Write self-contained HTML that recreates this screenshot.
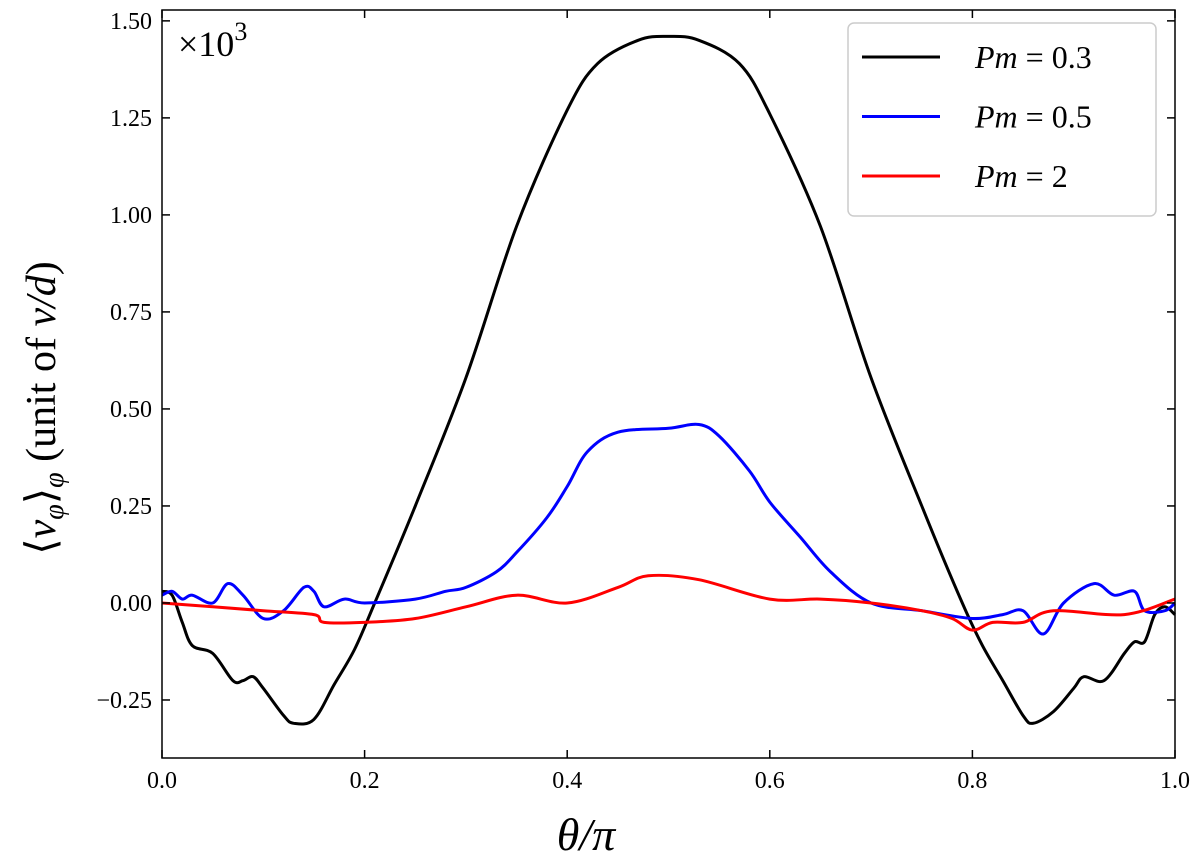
<!DOCTYPE html>
<html><head><meta charset="utf-8"><style>
body{margin:0;background:#fff;}
svg{display:block;font-family:"Liberation Serif",serif;}
</style></head><body>
<svg id="chart" width="1200" height="867"></svg>
<script>
const xTicks=[0,0.2,0.4,0.6,0.8,1.0];
const xTickLabels=["0.0","0.2","0.4","0.6","0.8","1.0"];
const yTicks=[-0.25,0,0.25,0.5,0.75,1.0,1.25,1.5];
const yTickLabels=["\u22120.25","0.00","0.25","0.50","0.75","1.00","1.25","1.50"];
const seriesNames=["Pm = 0.3","Pm = 0.5","Pm = 2"];
const seriesColors=["#000","#00f","#f00"];
const blackT=[0,0.01,0.02,0.03,0.05,0.07,0.08,0.09,0.1,0.12,0.13,0.15,0.17,0.19,0.21,0.25,0.3,0.35,0.4,0.43,0.47,0.5,0.53,0.57,0.6,0.65,0.7,0.75,0.79,0.81,0.83,0.85,0.86,0.88,0.9,0.91,0.93,0.95,0.96,0.97,0.98,0.99,1.0];
const blackV=[0.03,0.02,-0.05,-0.11,-0.13,-0.2,-0.2,-0.19,-0.22,-0.29,-0.31,-0.3,-0.21,-0.12,0.0,0.25,0.58,0.97,1.27,1.39,1.45,1.46,1.45,1.39,1.26,0.97,0.58,0.25,0.0,-0.11,-0.2,-0.29,-0.31,-0.28,-0.22,-0.19,-0.2,-0.13,-0.1,-0.1,-0.03,-0.01,-0.03];
const blueT=[0,0.01,0.02,0.03,0.05,0.065,0.08,0.1,0.12,0.14,0.15,0.16,0.18,0.2,0.25,0.28,0.3,0.33,0.35,0.38,0.4,0.42,0.45,0.5,0.53,0.55,0.58,0.6,0.63,0.66,0.7,0.75,0.8,0.83,0.85,0.87,0.89,0.92,0.94,0.96,0.97,0.99,1.0];
const blueV=[0.02,0.03,0.01,0.02,0.0,0.05,0.02,-0.04,-0.02,0.04,0.03,-0.01,0.01,0.0,0.01,0.03,0.04,0.08,0.13,0.22,0.30,0.39,0.44,0.45,0.46,0.43,0.34,0.26,0.17,0.08,0.0,-0.02,-0.04,-0.03,-0.02,-0.08,0.0,0.05,0.02,0.03,-0.02,-0.02,0.0];
const redT=[0,0.05,0.1,0.15,0.16,0.2,0.25,0.3,0.35,0.4,0.45,0.48,0.53,0.6,0.65,0.7,0.75,0.78,0.8,0.82,0.85,0.88,0.95,1.0];
const redV=[0.0,-0.01,-0.02,-0.03,-0.05,-0.05,-0.04,-0.01,0.02,0.0,0.04,0.07,0.06,0.01,0.01,0.0,-0.02,-0.04,-0.07,-0.05,-0.05,-0.02,-0.03,0.01];

const L=162,R=1175,T=10,B=758;
const yMin=-0.3995,yMax=1.528;
const X=t=>L+(R-L)*t;
const Y=v=>B-(B-T)*(v-yMin)/(yMax-yMin);
const svg=document.getElementById('chart');
const NS="http://www.w3.org/2000/svg";
function mk(tag,attrs,parent){const e=document.createElementNS(NS,tag);for(const k in attrs)e.setAttribute(k,attrs[k]);(parent||svg).appendChild(e);return e;}
function smooth(pts){
  let d="M"+pts[0][0].toFixed(1)+","+pts[0][1].toFixed(1);
  for(let i=0;i<pts.length-1;i++){
    const p0=pts[Math.max(0,i-1)],p1=pts[i],p2=pts[i+1],p3=pts[Math.min(pts.length-1,i+2)];
    const c1=[p1[0]+(p2[0]-p0[0])/6,p1[1]+(p2[1]-p0[1])/6];
    const c2=[p2[0]-(p3[0]-p1[0])/6,p2[1]-(p3[1]-p1[1])/6];
    d+="C"+c1[0].toFixed(1)+","+c1[1].toFixed(1)+" "+c2[0].toFixed(1)+","+c2[1].toFixed(1)+" "+p2[0].toFixed(1)+","+p2[1].toFixed(1);
  }
  return d;
}

const series=[[blackT,blackV],[blueT,blueV],[redT,redV]];
series.forEach((s,i)=>{
  const pts=s[0].map((t,j)=>[X(t),Y(s[1][j])]);
  const p=mk('path',{d:smooth(pts),fill:"none",stroke:seriesColors[i],"stroke-width":3,"stroke-linejoin":"round"});
  
  
});

const frame=mk('rect',{x:L,y:T,width:R-L,height:B-T,fill:"none",stroke:"#000","stroke-width":1.5});



xTicks.forEach((t,i)=>{
  mk('line',{x1:X(t),x2:X(t),y1:B,y2:B-8,stroke:"#000","stroke-width":1.5});
  mk('line',{x1:X(t),x2:X(t),y1:T,y2:T+8,stroke:"#000","stroke-width":1.5});
  const tx=mk('text',{x:X(t),y:B+30,"text-anchor":"middle","font-size":24});
  tx.textContent=xTickLabels[i];
  
  
});
yTicks.forEach((v,i)=>{
  mk('line',{x1:L,x2:L+8,y1:Y(v),y2:Y(v),stroke:"#000","stroke-width":1.5});
  mk('line',{x1:R,x2:R-8,y1:Y(v),y2:Y(v),stroke:"#000","stroke-width":1.5});
  const tx=mk('text',{x:L-10,y:Y(v)+8,"text-anchor":"end","font-size":24});
  tx.textContent=yTickLabels[i];
  
  
});

const mult=mk('text',{x:178,y:56,"font-size":36});
mult.innerHTML='×10<tspan dy="-16" font-size="26">3</tspan>';



const xl=mk('text',{x:586,y:850,"text-anchor":"middle","font-size":46,"font-style":"italic"});
xl.textContent="θ/π";



const yl=mk('text',{transform:"translate(55,408) rotate(-90)","text-anchor":"middle","font-size":42});
yl.innerHTML='⟨<tspan font-style="italic">v</tspan><tspan dy="8" font-size="28" font-style="italic">φ</tspan><tspan dy="-8">⟩</tspan><tspan dy="8" font-size="28" font-style="italic">φ</tspan><tspan dy="-8"> (unit of </tspan><tspan font-style="italic">ν/d</tspan>)';



const lg=mk('g',{});


mk('rect',{x:848,y:23,width:308,height:193,rx:6,fill:"#fff",stroke:"#ccc","stroke-width":1.5},lg);
seriesNames.forEach((n,i)=>{
  const y=57+i*59.5;
  const ent=mk('g',{},lg);
  
  
  mk('line',{x1:862,x2:940,y1:y,y2:y,stroke:seriesColors[i],"stroke-width":3},ent);
  const parts=n.split(" = ");
  const tx=mk('text',{x:975,y:y+11,"font-size":32},ent);
  tx.innerHTML='<tspan font-style="italic">'+parts[0]+'</tspan> = '+parts[1];
});
</script>
</body></html>
